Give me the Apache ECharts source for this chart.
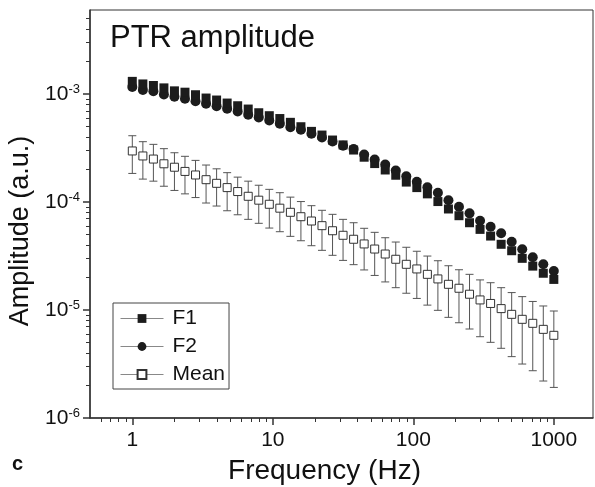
<!DOCTYPE html>
<html>
<head>
<meta charset="UTF-8">
<title>PTR amplitude</title>
<script src="https://cdn.jsdelivr.net/npm/echarts@6/dist/echarts.min.js"></script>
<style>
  html, body { margin: 0; padding: 0; background: #fff; }
  #chart { width: 595px; height: 487px; }
</style>
</head>
<body>
<div id="chart"></div>
<script>
// frequencies (Hz), log spaced from 1 to 1000
var freq = [1, 1.189, 1.413, 1.679, 1.995, 2.371, 2.818, 3.35, 3.981, 4.732,
  5.623, 6.683, 7.943, 9.441, 11.22, 13.34, 15.85, 18.84, 22.39, 26.61,
  31.62, 37.58, 44.67, 53.09, 63.1, 74.99, 89.13, 105.9, 125.9, 149.6,
  177.8, 211.3, 251.2, 298.5, 354.8, 421.7, 501.2, 595.7, 707.9, 841.4, 1000];

var f1 = [1.31e-3, 1.24e-3, 1.20e-3, 1.14e-3, 1.07e-3, 1.04e-3, 9.85e-4, 9.18e-4, 8.80e-4, 8.25e-4,
  7.79e-4, 7.26e-4, 6.71e-4, 6.30e-4, 5.93e-4, 5.47e-4, 4.98e-4, 4.51e-4, 4.17e-4, 3.75e-4,
  3.38e-4, 3.03e-4, 2.60e-4, 2.27e-4, 1.98e-4, 1.77e-4, 1.53e-4, 1.36e-4, 1.19e-4, 1.01e-4,
  8.62e-5, 7.47e-5, 6.43e-5, 5.58e-5, 4.84e-5, 4.06e-5, 3.54e-5, 3.01e-5, 2.55e-5, 2.19e-5, 1.92e-5];

var f2 = [1.16e-3, 1.09e-3, 1.06e-3, 9.90e-4, 9.42e-4, 9.03e-4, 8.58e-4, 8.12e-4, 7.71e-4, 7.30e-4,
  6.89e-4, 6.42e-4, 6.06e-4, 5.68e-4, 5.30e-4, 4.93e-4, 4.67e-4, 4.28e-4, 3.96e-4, 3.63e-4,
  3.32e-4, 3.09e-4, 2.75e-4, 2.48e-4, 2.22e-4, 1.96e-4, 1.73e-4, 1.54e-4, 1.37e-4, 1.22e-4,
  1.04e-4, 9.04e-5, 7.85e-5, 6.71e-5, 5.91e-5, 5.13e-5, 4.29e-5, 3.65e-5, 3.08e-5, 2.65e-5, 2.30e-5];

var meanVal = [2.97e-4, 2.67e-4, 2.50e-4, 2.26e-4, 2.10e-4, 1.92e-4, 1.78e-4, 1.61e-4, 1.49e-4, 1.36e-4,
  1.25e-4, 1.13e-4, 1.04e-4, 9.53e-5, 8.77e-5, 8.03e-5, 7.31e-5, 6.67e-5, 6.04e-5, 5.42e-5,
  4.92e-5, 4.52e-5, 4.09e-5, 3.67e-5, 3.30e-5, 2.95e-5, 2.65e-5, 2.40e-5, 2.14e-5, 1.94e-5,
  1.73e-5, 1.59e-5, 1.40e-5, 1.24e-5, 1.15e-5, 1.03e-5, 9.12e-6, 8.20e-6, 7.53e-6, 6.62e-6, 5.83e-6];

var meanHi = [4.11e-4, 3.62e-4, 3.42e-4, 3.12e-4, 2.86e-4, 2.65e-4, 2.43e-4, 2.20e-4, 2.03e-4, 1.87e-4,
  1.70e-4, 1.56e-4, 1.43e-4, 1.31e-4, 1.22e-4, 1.11e-4, 1.01e-4, 9.25e-5, 8.38e-5, 7.69e-5,
  6.91e-5, 6.43e-5, 5.71e-5, 5.24e-5, 4.67e-5, 4.26e-5, 3.81e-5, 3.50e-5, 3.16e-5, 2.86e-5,
  2.57e-5, 2.36e-5, 2.14e-5, 1.90e-5, 1.79e-5, 1.61e-5, 1.45e-5, 1.33e-5, 1.20e-5, 1.09e-5, 9.79e-6];

var meanLo = [1.84e-4, 1.63e-4, 1.56e-4, 1.40e-4, 1.28e-4, 1.19e-4, 1.10e-4, 9.79e-5, 9.18e-5, 8.30e-5,
  7.62e-5, 6.91e-5, 6.35e-5, 5.74e-5, 5.31e-5, 4.81e-5, 4.38e-5, 3.94e-5, 3.57e-5, 3.21e-5,
  2.88e-5, 2.63e-5, 2.35e-5, 2.09e-5, 1.82e-5, 1.61e-5, 1.43e-5, 1.28e-5, 1.11e-5, 9.93e-6,
  8.55e-6, 7.62e-6, 6.67e-6, 5.66e-6, 5.02e-6, 4.42e-6, 3.70e-6, 3.16e-6, 2.74e-6, 2.20e-6, 1.92e-6];

// axis ticks
var xMajor = [1, 10, 100, 1000];
var xMinor = [0.6, 0.7, 0.8, 0.9, 2, 3, 4, 5, 6, 7, 8, 9, 20, 30, 40, 50, 60, 70, 80, 90,
  200, 300, 400, 500, 600, 700, 800, 900];
var yMajor = [1.000001e-6, 1e-5, 1e-4, 1e-3];
var yMinor = [2e-6, 3e-6, 4e-6, 5e-6, 6e-6, 7e-6, 8e-6, 9e-6, 2e-5, 3e-5, 4e-5, 5e-5, 6e-5, 7e-5, 8e-5, 9e-5,
  2e-4, 3e-4, 4e-4, 5e-4, 6e-4, 7e-4, 8e-4, 9e-4, 2e-3, 3e-3, 4e-3, 5e-3];

var FONT = '"Liberation Sans", Arial, sans-serif';
var AX = '#333';

function pairs(ys) {
  return freq.map(function(f, i) { return [f, ys[i]]; });
}

var myChart = echarts.init(document.getElementById('chart'), null, { renderer: 'canvas' });

var option = {
  animation: false,
  backgroundColor: '#fff',
  title: {
    text: 'PTR amplitude',
    left: 110, top: 23, padding: 0,
    textStyle: { fontFamily: FONT, fontSize: 31, fontWeight: 'normal', color: '#111' }
  },
  grid: {
    left: 90, right: 2, top: 10, bottom: 69,
    show: true, borderColor: AX, borderWidth: 1,
    outerBoundsMode: 'none'
  },
  legend: {
    orient: 'vertical',
    left: 113, top: 303,
    padding: [5, 4, 4, 7],
    borderColor: '#444', borderWidth: 1,
    itemWidth: 43, itemHeight: 11, itemGap: 7,
    textStyle: { fontFamily: FONT, fontSize: 21, color: '#111', padding: [0, 0, 0, 4] },
    lineStyle: { color: '#888', width: 1, opacity: 1, type: 'solid' },
    data: ['F1', 'F2', 'Mean']
  },
  xAxis: [{
    type: 'log', logBase: 10, min: 0.5, max: 1900, position: 'bottom',
    axisLine: { lineStyle: { color: AX, width: 1.5 } },
    axisTick: { inside: false, length: 7, customValues: xMajor, lineStyle: { color: AX, width: 1.5 } },
    axisLabel: {
      customValues: xMajor, fontFamily: FONT, fontSize: 21, color: '#111', margin: 12,
      formatter: function(v) { return String(Math.round(v)); }
    },
    splitLine: { show: false },
    name: 'Frequency (Hz)', nameLocation: 'middle', nameGap: 39,
    nameTextStyle: { fontFamily: FONT, fontSize: 28, color: '#111', padding: [0, 34, 0, 0] }
  }, {
    type: 'log', logBase: 10, min: 0.5, max: 1900, position: 'bottom',
    axisLine: { show: false },
    axisTick: { inside: false, length: 4, customValues: xMinor, lineStyle: { color: AX, width: 1 } },
    axisLabel: { show: false },
    splitLine: { show: false }
  }],
  yAxis: [{
    type: 'log', logBase: 10, min: 1e-6, max: 6e-3, position: 'left',
    axisLine: { lineStyle: { color: AX, width: 1.5 } },
    axisTick: { inside: false, length: 7, customValues: yMajor, lineStyle: { color: AX, width: 1.5 } },
    axisLabel: {
      customValues: yMajor, margin: 10,
      formatter: function(v) {
        return '{b|10}{s|' + Math.round(Math.log10(v)) + '}';
      },
      rich: {
        b: { fontFamily: FONT, fontSize: 21, color: '#111', lineHeight: 22 },
        s: { fontFamily: FONT, fontSize: 13, color: '#111', verticalAlign: 'top', lineHeight: 14, padding: [0, 0, 6, 0] }
      }
    },
    splitLine: { show: false },
    name: 'Amplitude (a.u.)', nameLocation: 'middle', nameGap: 50,
    nameTextStyle: { fontFamily: FONT, fontSize: 27, color: '#111', padding: [0, 34, 0, 0] }
  }, {
    type: 'log', logBase: 10, min: 1e-6, max: 6e-3, position: 'left',
    axisLine: { show: false },
    axisTick: { inside: false, length: 4, customValues: yMinor, lineStyle: { color: AX, width: 1 } },
    axisLabel: { show: false },
    splitLine: { show: false }
  }],
  graphic: [{
    type: 'text', left: 12, top: 454,
    style: { text: 'c', fontFamily: FONT, fontSize: 20, fontWeight: 'bold', fill: '#111' }
  }],
  series: [{
    name: 'errors',
    type: 'custom',
    xAxisIndex: 0, yAxisIndex: 0,
    silent: true,
    z: 1,
    data: freq.map(function(f, i) { return [f, meanLo[i], meanHi[i]]; }),
    encode: { x: 0, y: [1, 2] },
    renderItem: function(params, api) {
      var x = api.value(0);
      var lo = api.coord([x, api.value(1)]);
      var hi = api.coord([x, api.value(2)]);
      var h = 4;
      var st = { stroke: '#555', lineWidth: 1 };
      return {
        type: 'group',
        children: [
          { type: 'line', shape: { x1: hi[0], y1: hi[1], x2: lo[0], y2: lo[1] }, style: st },
          { type: 'line', shape: { x1: hi[0] - h, y1: hi[1], x2: hi[0] + h, y2: hi[1] }, style: st },
          { type: 'line', shape: { x1: lo[0] - h, y1: lo[1], x2: lo[0] + h, y2: lo[1] }, style: st }
        ]
      };
    }
  }, {
    name: 'Mean',
    type: 'line',
    z: 3,
    data: pairs(meanVal),
    symbol: 'rect', symbolSize: 8, showAllSymbol: true,
    itemStyle: { color: '#fff', borderColor: '#333', borderWidth: 1 },
    lineStyle: { opacity: 0 },
    emphasis: { disabled: true }
  }, {
    name: 'F2',
    type: 'line',
    z: 4,
    data: pairs(f2),
    symbol: 'circle', symbolSize: 10, showAllSymbol: true,
    itemStyle: { color: '#1c1c1c' },
    lineStyle: { opacity: 0 },
    emphasis: { disabled: true }
  }, {
    name: 'F1',
    type: 'line',
    z: 5,
    data: pairs(f1),
    symbol: 'rect', symbolSize: 9, showAllSymbol: true,
    itemStyle: { color: '#1c1c1c' },
    lineStyle: { opacity: 0 },
    emphasis: { disabled: true }
  }]
};

myChart.setOption(option);
</script>
</body>
</html>
